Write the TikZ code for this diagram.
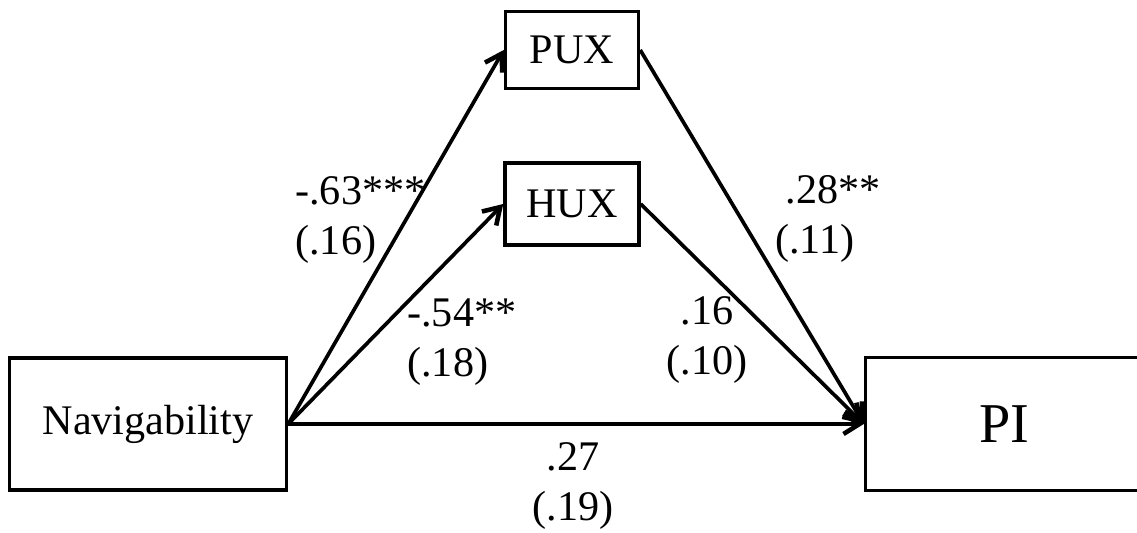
\documentclass[tikz,border=0pt]{standalone}
\usepackage{fontspec}
\setmainfont{Liberation Serif}
\usetikzlibrary{arrows.meta}

\begin{document}
\begin{tikzpicture}[
    x=0.02cm, y=-0.02cm,
    box/.style={draw, line width=2pt, inner sep=0pt, font=\fontsize{24}{28}\selectfont},
    link/.style={line width=2.1pt, -{Straight Barb[length=0.32cm, width=0.4cm, line width=2.6pt]}},
    coef/.style={inner sep=0pt, font=\fontsize{24}{28.45}\selectfont},
]
% Page frame (pixel units, y downwards)
\useasboundingbox (0,0) rectangle (1137,533);

% Variables
\node[box, minimum width=5.54cm, minimum height=2.64cm] (nav) at (148,424) {Navigability};
\node[box, minimum width=2.66cm, minimum height=1.54cm] (pux) at (572,50) {PUX};
\node[box, minimum width=2.68cm, minimum height=1.64cm] (hux) at (572,204) {HUX};
\node[box, minimum width=5.54cm, minimum height=2.66cm, font=\fontsize{32}{36}\selectfont] (pi) at (1004,424) {PI};

% Paths
\draw[link] (nav.east) -- (pux.west);
\draw[link] (nav.east) -- (hux.west);
\draw[link] (pux.east) -- (pi.west);
\draw[link] (hux.east) -- (pi.west);
\draw[link] (nav.east) -- (pi.west);

% Coefficients (SE)
\node[coef, align=left, anchor=west] (a1) at (295,220) {-.63***\\(.16)};
\node[coef, align=left, anchor=west] (a2) at (407,342) {-.54**\\(.18)};
\node[coef, align=left, anchor=west] (b1) at (775,219) {~.28**\\(.11)};
\node[coef, align=center] (b2) at (707,340) {.16\\(.10)};
\node[coef, align=center] (c) at (573,486) {.27\\(.19)};

\end{tikzpicture}
\end{document}
